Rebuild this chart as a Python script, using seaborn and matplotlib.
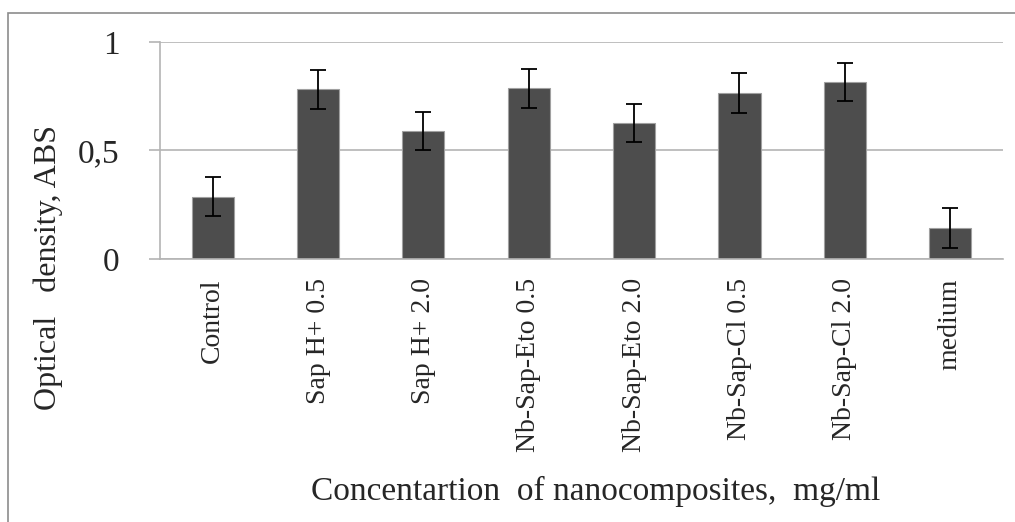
import pandas as pd
import matplotlib.pyplot as plt
import numpy as np
import seaborn as sns
from matplotlib.ticker import FuncFormatter
from matplotlib.patches import Rectangle

categories = ['Control', 'Sap H+ 0.5', 'Sap H+ 2.0', 'Nb-Sap-Eto 0.5', 'Nb-Sap-Eto 2.0',
              'Nb-Sap-Cl 0.5', 'Nb-Sap-Cl 2.0', 'medium']
od_values = [0.287, 0.782, 0.588, 0.786, 0.625, 0.766, 0.814, 0.143]
od_errors = [0.090, 0.090, 0.088, 0.088, 0.087, 0.092, 0.088, 0.093]

df = pd.DataFrame({'group': categories, 'od': od_values})

sns.set_style('white')
plt.rcParams['font.family'] = ['Liberation Serif', 'DejaVu Serif']

fig = plt.figure(figsize=(10.15, 5.22), dpi=100)
ax = fig.add_axes([0.1576, 0.504, 0.8305, 0.4155])

sns.barplot(data=df, x='group', y='od', color='#4d4d4d', saturation=1, width=0.4,
            edgecolor='#a0a0a0', linewidth=0.8, errorbar=None, ax=ax, zorder=2)
ax.errorbar(np.arange(len(categories)), od_values, yerr=od_errors, fmt='none',
            ecolor='black', elinewidth=1.3, capsize=5.5, capthick=1.3, zorder=3)

ax.set_ylim(0, 1)
ax.set_xlim(-0.5, len(categories) - 0.5)
ax.set_yticks([0, 0.5, 1])
ax.yaxis.set_major_formatter(FuncFormatter(lambda v, p: f'{v:g}'.replace('.', ',')))
ax.grid(axis='y', color='#b4b4b4', linewidth=1.2, zorder=0)
ax.set_axisbelow(True)
for s in ['top', 'right']:
    ax.spines[s].set_visible(False)
for s in ['left', 'bottom']:
    ax.spines[s].set_color('#b4b4b4')
    ax.spines[s].set_linewidth(1.2)
ax.tick_params(axis='y', length=8, width=1.2, color='#b4b4b4', labelsize=24, pad=21, left=True)
ax.tick_params(axis='x', length=0, labelsize=20, pad=14, labelrotation=90)

ax.set_xlabel('')
ax.set_ylabel('')
fig.text(596 / 1015, 1 - 491 / 522, 'Concentartion  of nanocomposites,  mg/ml',
         fontsize=24, ha='center', va='center')
fig.text(48 / 1015, 1 - 267 / 522, 'Optical   density, ABS', fontsize=23,
         rotation=90, ha='center', va='center')

fig.patches.append(Rectangle((8 / 1015, -0.01), 1.1, 1 - 13 / 522 + 0.01, transform=fig.transFigure,
                             fill=False, edgecolor='#8c8c8c', linewidth=1.2))

fig.savefig('out.png', dpi=100)
